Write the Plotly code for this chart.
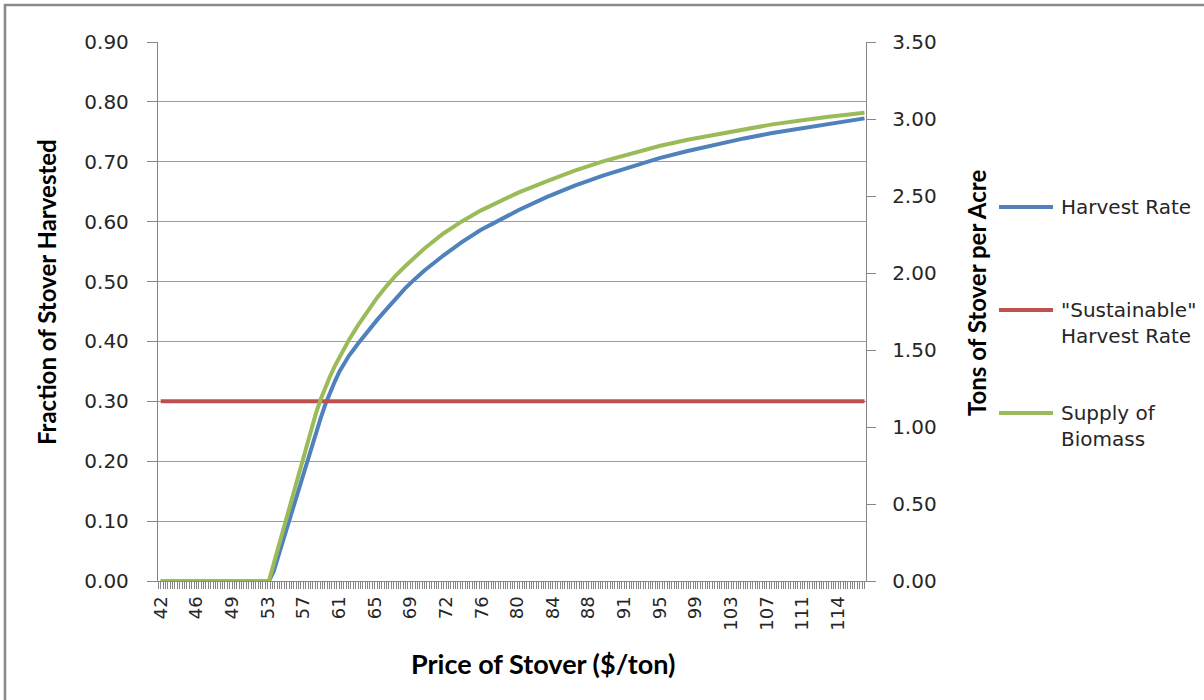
import plotly.graph_objects as go

# ---------------- data ----------------
price = [42, 44, 46, 48, 50, 52, 53.5,
         54, 55, 56, 57, 57.5, 58, 58.5, 59, 59.5, 60, 60.5, 61,
         62, 63, 64, 65, 66, 67, 68, 69, 70,
         72, 74, 76, 78, 80,
         83, 86, 89, 92, 95, 98, 101, 104, 107, 110, 113, 116.8]

harvest_rate = [0, 0, 0, 0, 0, 0, 0,
                0.016, 0.068, 0.12, 0.171, 0.197, 0.222, 0.247, 0.272, 0.295, 0.315, 0.333, 0.350,
                0.376, 0.397, 0.417, 0.436, 0.454, 0.472, 0.489, 0.504, 0.518,
                0.543, 0.566, 0.586, 0.603, 0.619,
                0.641, 0.660, 0.677, 0.692, 0.706, 0.718, 0.729, 0.739, 0.748, 0.756, 0.764, 0.7725]

sustainable_rate = [0.30, 0.30, 0.30, 0.30, 0.30, 0.30, 0.30, 0.30, 0.30,
                    0.30, 0.30, 0.30, 0.30, 0.30, 0.30, 0.30, 0.30, 0.30,
                    0.30, 0.30, 0.30, 0.30, 0.30, 0.30, 0.30, 0.30, 0.30,
                    0.30, 0.30, 0.30, 0.30, 0.30, 0.30, 0.30, 0.30, 0.30,
                    0.30, 0.30, 0.30, 0.30, 0.30, 0.30, 0.30, 0.30, 0.30]

biomass_supply = [0, 0, 0, 0, 0, 0, 0,
                  0.11, 0.33, 0.55, 0.77, 0.88, 0.99, 1.09, 1.18, 1.26, 1.33, 1.395, 1.455,
                  1.565, 1.663, 1.752, 1.84, 1.915, 1.985, 2.045, 2.102, 2.158,
                  2.255, 2.335, 2.405, 2.467, 2.522,
                  2.595, 2.665, 2.725, 2.775, 2.825, 2.865, 2.90, 2.935, 2.965, 2.99, 3.015, 3.04]

x_tick_labels = ["42", "46", "49", "53", "57", "61", "65", "69", "72", "76", "80",
                 "84", "88", "91", "95", "99", "103", "107", "111", "114"]

series_names = ["Harvest Rate", "\"Sustainable\"<br>Harvest Rate", "Supply of<br>Biomass"]
series_colors = ["#4F81BD", "#C0504D", "#9BBB59"]

# ---------------- layout helpers ----------------
LABEL_STEP = 3.79          # price distance between two labelled categories
CATS_PER_LABEL = 15
tick_pos = [42 + i * LABEL_STEP for i in range(len(x_tick_labels))]

W, H = 1204, 700
L, R, T, B = 158, 866, 42, 581


def px_x(px):
    return (px - L) / (R - L)


def px_y(py):
    return (B - py) / (B - T)


AX_COL = "#868686"
GRID_COL = "#9c9c9c"
TXT_COL = "#262626"
TICK_FONT = "DejaVu Sans"
TITLE_FONT = "Lato"

fig = go.Figure()
fig.add_trace(go.Scatter(x=price, y=harvest_rate, mode="lines", name="Harvest Rate",
                         line=dict(color=series_colors[0], width=4)))
fig.add_trace(go.Scatter(x=price, y=sustainable_rate, mode="lines",
                         name="\"Sustainable\" Harvest Rate",
                         line=dict(color=series_colors[1], width=4)))
fig.add_trace(go.Scatter(x=price, y=biomass_supply, mode="lines", name="Supply of Biomass",
                         yaxis="y2", line=dict(color=series_colors[2], width=4)))

fig.update_layout(
    width=W, height=H,
    margin=dict(l=L, r=W - R, t=T, b=H - B, pad=0),
    paper_bgcolor="white", plot_bgcolor="white",
    showlegend=False,
    xaxis=dict(
        range=[41.71, 116.96], tickmode="array", tickvals=tick_pos, ticktext=x_tick_labels,
        tickangle=-90, ticks="outside", ticklen=7, tickcolor=AX_COL, tickwidth=1,
        minor=dict(ticks="outside", ticklen=7, tick0=42, dtick=LABEL_STEP / CATS_PER_LABEL,
                   tickcolor=AX_COL, tickwidth=1, showgrid=False),
        showline=True, linecolor=AX_COL, linewidth=1.3, showgrid=False, zeroline=False,
        tickfont=dict(family=TICK_FONT, size=18, color=TXT_COL), ticklabelstandoff=0,
        automargin=False,
    ),
    yaxis=dict(
        range=[0, 0.9], dtick=0.1, tickformat=".2f", ticks="outside", ticklen=10,
        tickcolor=AX_COL, showline=True, linecolor=AX_COL, linewidth=1.3,
        showgrid=True, gridcolor=GRID_COL, gridwidth=1.3, zeroline=False,
        tickfont=dict(family=TICK_FONT, size=20, color=TXT_COL), ticklabelstandoff=14,
        automargin=False,
    ),
    yaxis2=dict(
        range=[0, 3.5], dtick=0.5, tickformat=".2f", overlaying="y", side="right",
        ticks="outside", ticklen=9, tickcolor=AX_COL, showline=True, linecolor=AX_COL,
        linewidth=1.3, showgrid=False, zeroline=False,
        tickfont=dict(family=TICK_FONT, size=20, color=TXT_COL), ticklabelstandoff=12,
        automargin=False,
    ),
)

annotations = [
    dict(text="<b>Fraction of Stover Harvested</b>", x=px_x(46), y=px_y(292), textangle=-90,
         font=dict(family=TITLE_FONT, size=24, color="black")),
    dict(text="<b>Tons of Stover per Acre</b>", x=px_x(976), y=px_y(293), textangle=-90,
         font=dict(family=TITLE_FONT, size=24, color="black")),
    dict(text="<b>Price of Stover ($/ton)</b>", x=px_x(543), y=px_y(663),
         font=dict(family=TITLE_FONT, size=27, color="black")),
]
legend_y = [207, 310, 413]
shapes = []
for name, col, ly in zip(series_names, series_colors, legend_y):
    shapes.append(dict(type="line", xref="paper", yref="paper", x0=px_x(999), x1=px_x(1053),
                       y0=px_y(ly), y1=px_y(ly), line=dict(color=col, width=4)))
    annotations.append(dict(text=name, x=px_x(1059), y=px_y(ly - 14), xanchor="left",
                            yanchor="top", align="left",
                            font=dict(family=TICK_FONT, size=20, color=TXT_COL)))
for a in annotations:
    a.setdefault("xref", "paper")
    a.setdefault("yref", "paper")
    a.setdefault("showarrow", False)
    a.setdefault("xanchor", "center")
    a.setdefault("yanchor", "middle")

# outer chart frame (partially off-page)
shapes.append(dict(type="rect", xref="paper", yref="paper", x0=px_x(5), x1=px_x(1260),
                   y0=px_y(760), y1=px_y(5), line=dict(color="#8a8a8a", width=2.6)))

fig.update_layout(annotations=annotations, shapes=shapes)
fig.write_html("out.html", config={"displayModeBar": False},
               post_script="document.body.style.margin='0px';")
